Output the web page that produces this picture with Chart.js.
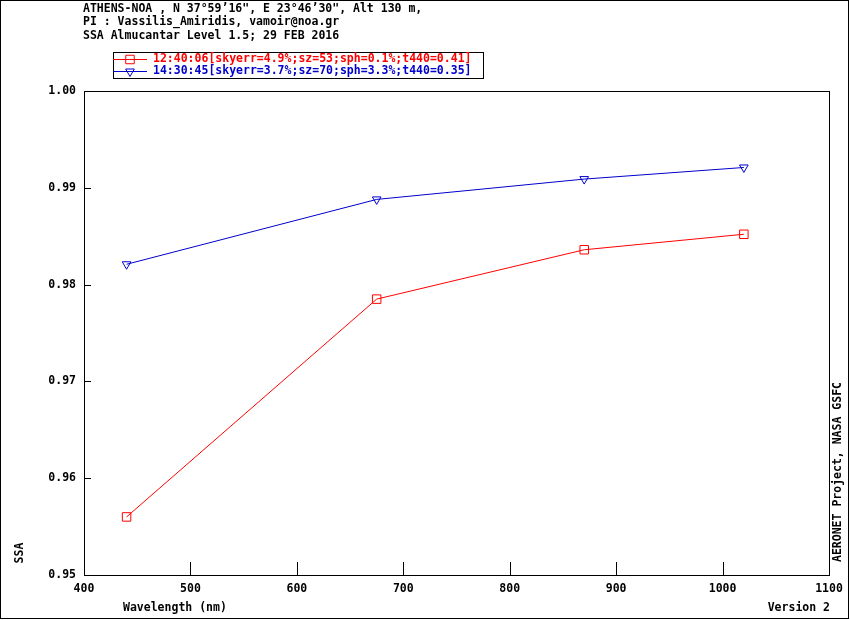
<!DOCTYPE html>
<html>
<head>
<meta charset="utf-8">
<script src="https://cdn.jsdelivr.net/npm/chart.js@4/dist/chart.umd.min.js"></script>
<style>
  html, body { margin: 0; padding: 0; background: #fff; }
  canvas { display: block; }
</style>
</head>
<body>
<canvas id="ssa-chart" width="850" height="620"></canvas>
<script>
// wavelengths (nm) and single scattering albedo per almucantar scan
const wavelengths = [440, 675, 870, 1020];
const ssaScan1 = [0.9560, 0.9785, 0.9836, 0.9852];
const ssaScan2 = [0.9821, 0.9888, 0.9909, 0.9921];

const scanLabels = [
  '12:40:06[skyerr=4.9%;sz=53;sph=0.1%;t440=0.41]',
  '14:30:45[skyerr=3.7%;sz=70;sph=3.3%;t440=0.35]'
];
const headerLines = [
  'ATHENS-NOA , N 37\u00B059\u201916", E 23\u00B046\u201930", Alt 130 m,',
  'PI : Vassilis_Amiridis, vamoir@noa.gr',
  'SSA Almucantar Level 1.5; 29 FEB 2016'
];
const xTicks = [400, 500, 600, 700, 800, 900, 1000, 1100];
const yTicks = [0.95, 0.96, 0.97, 0.98, 0.99, 1.00];

const RED = '#ff0000';
const BLUE = '#0000cc';
const FONT = 'bold 11.5px "DejaVu Sans Mono", "Liberation Mono", monospace';

function toPoints(ys) {
  return wavelengths.map((w, i) => ({ x: w, y: ys[i] }));
}

// draws header, legend box, inner ticks, frame and side labels
const decorations = {
  id: 'decorations',
  afterDraw(chart) {
    const ctx = chart.ctx;
    const area = chart.chartArea;
    const xs = chart.scales.x;
    const ys = chart.scales.y;

    ctx.save();
    ctx.strokeStyle = '#000';
    ctx.lineWidth = 1;

    // outer frame
    ctx.strokeRect(0.5, 0.5, 848, 618);

    // plot box
    ctx.strokeRect(Math.round(area.left) + 0.5, Math.round(area.top) + 0.5,
      Math.round(area.right - area.left), Math.round(area.bottom - area.top));

    // inward tick marks
    ctx.beginPath();
    xTicks.forEach(v => {
      const px = Math.round(xs.getPixelForValue(v)) + 0.5;
      ctx.moveTo(px, area.bottom);
      ctx.lineTo(px, area.bottom - 13);
    });
    yTicks.forEach(v => {
      const py = Math.round(ys.getPixelForValue(v)) + 0.5;
      ctx.moveTo(area.left, py);
      ctx.lineTo(area.left + 7, py);
    });
    ctx.stroke();

    ctx.font = FONT;
    ctx.fillStyle = '#000';
    ctx.textBaseline = 'middle';
    ctx.textAlign = 'left';

    // header
    headerLines.forEach((line, i) => ctx.fillText(line, 83, 9 + i * 13.5));

    // axis captions
    ctx.fillText('Wavelength (nm)', 123, 608);
    ctx.textAlign = 'right';
    ctx.fillText('Version 2', 830, 608);

    ctx.save();
    ctx.translate(20, 553);
    ctx.rotate(-Math.PI / 2);
    ctx.textAlign = 'center';
    ctx.fillText('SSA', 0, 0);
    ctx.restore();

    ctx.save();
    ctx.translate(838, 472);
    ctx.rotate(-Math.PI / 2);
    ctx.textAlign = 'center';
    ctx.fillText('AERONET Project, NASA GSFC', 0, 0);
    ctx.restore();

    // legend
    ctx.strokeStyle = '#000';
    ctx.strokeRect(113.5, 52.5, 370, 26);
    chart.data.datasets.forEach((ds, i) => {
      const y = 59.5 + i * 12;
      ctx.strokeStyle = ds.borderColor;
      ctx.beginPath();
      ctx.moveTo(113, y);
      ctx.lineTo(147, y);
      ctx.stroke();
      ctx.fillStyle = 'rgba(0,0,0,0)';
      Chart.helpers.drawPoint(ctx, {
        pointStyle: ds.pointStyle,
        radius: ds.pointRadius,
        rotation: ds.pointRotation || 0,
        borderWidth: 1
      }, 130, y);
      ctx.fillStyle = ds.borderColor;
      ctx.textAlign = 'left';
      ctx.fillText(ds.label, 153, y);
    });

    ctx.restore();
  }
};

new Chart(document.getElementById('ssa-chart'), {
  type: 'line',
  data: {
    datasets: [
      {
        label: scanLabels[0],
        data: toPoints(ssaScan1),
        borderColor: RED,
        backgroundColor: 'rgba(0,0,0,0)',
        borderWidth: 1,
        pointStyle: 'rect',
        pointRadius: 6,
        pointBorderWidth: 1,
        pointBorderColor: RED,
        pointBackgroundColor: 'rgba(0,0,0,0)'
      },
      {
        label: scanLabels[1],
        data: toPoints(ssaScan2),
        borderColor: BLUE,
        backgroundColor: 'rgba(0,0,0,0)',
        borderWidth: 1,
        pointStyle: 'triangle',
        pointRotation: 180,
        pointRadius: 5,
        pointBorderWidth: 1,
        pointBorderColor: BLUE,
        pointBackgroundColor: 'rgba(0,0,0,0)'
      }
    ]
  },
  options: {
    responsive: false,
    animation: false,
    layout: {
      padding: { left: 0, top: 91, right: 21, bottom: 0 }
    },
    plugins: {
      legend: { display: false },
      title: { display: false },
      tooltip: { enabled: false }
    },
    scales: {
      x: {
        type: 'linear',
        min: 400,
        max: 1100,
        afterBuildTicks: (scale) => { scale.ticks = xTicks.map(v => ({ value: v })); },
        afterFit: (scale) => { scale.height = 45; },
        grid: { display: false, drawTicks: false },
        border: { display: false },
        ticks: {
          padding: 7,
          color: '#000',
          font: { family: '"DejaVu Sans Mono"', size: 11.5, weight: 'bold' },
          maxRotation: 0,
          autoSkip: false,
          callback: (v) => String(v)
        }
      },
      y: {
        min: 0.95,
        max: 1.00,
        afterBuildTicks: (scale) => { scale.ticks = yTicks.map(v => ({ value: v })); },
        afterFit: (scale) => { scale.width = 84; },
        grid: { display: false, drawTicks: false },
        border: { display: false },
        ticks: {
          padding: 8,
          color: '#000',
          font: { family: '"DejaVu Sans Mono"', size: 11.5, weight: 'bold' },
          autoSkip: false,
          callback: (v) => v.toFixed(2)
        }
      }
    }
  },
  plugins: [decorations]
});
</script>
</body>
</html>
